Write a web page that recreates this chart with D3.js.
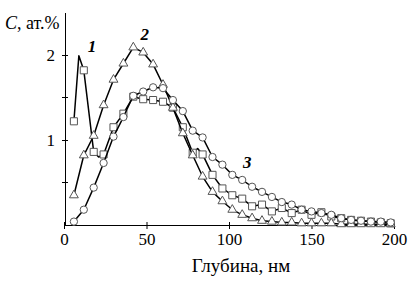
<!DOCTYPE html>
<html>
<head>
<meta charset="utf-8">
<script src="https://cdn.jsdelivr.net/npm/d3@7"></script>
<style>
  html, body { margin: 0; padding: 0; background: #fff; }
  svg { display: block; }
  svg text { font-family: "Liberation Serif", "Times New Roman", "DejaVu Serif", serif; fill: #000; }
  .axis path, .axis line { stroke: #000; stroke-width: 1; }
  .axis text { font-size: 17px; }
  .curve { fill: none; stroke: #000; stroke-width: 1.5; stroke-linejoin: round; }
  .mark { fill: #fff; stroke: #555; stroke-width: 1; }
  .curve-label { font-size: 17px; font-weight: bold; font-style: italic; }
</style>
</head>
<body>
<svg id="chart" width="412" height="292"></svg>
<script>
// depth profiles, C in at.% vs depth in nm
const depth1 = [6, 9, 12, 18, 21, 24, 30, 36, 42, 48, 54, 60, 66, 72, 78, 81, 84, 90, 96, 102, 108, 114, 120, 126, 132, 138, 144, 150, 156, 162, 168, 174, 180, 186, 192, 198];
const conc1 = [1.22, 1.99, 1.82, 0.86, 0.80, 0.83, 1.15, 1.31, 1.51, 1.48, 1.47, 1.45, 1.38, 1.15, 0.85, 0.90, 0.83, 0.59, 0.43, 0.35, 0.31, 0.22, 0.24, 0.16, 0.20, 0.14, 0.18, 0.12, 0.15, 0.10, 0.08, 0.06, 0.05, 0.04, 0.03, 0.02];

const depth2 = [6, 12, 18, 24, 30, 36, 42, 48, 54, 60, 66, 72, 78, 84, 90, 96, 102, 108, 114, 120, 126, 132, 138, 144, 150, 156, 162, 168, 174, 180, 186, 192, 198];
const conc2 = [0.35, 0.82, 1.05, 1.41, 1.71, 1.90, 2.09, 2.03, 1.89, 1.65, 1.38, 1.08, 0.82, 0.57, 0.39, 0.28, 0.18, 0.12, 0.08, 0.05, 0.04, 0.03, 0.03, 0.02, 0.02, 0.02, 0.02, 0.01, 0.01, 0.01, 0.01, 0.01, 0.01];

const depth3 = [6, 12, 18, 24, 30, 36, 42, 48, 54, 60, 66, 72, 78, 84, 90, 96, 102, 108, 114, 120, 126, 132, 138, 144, 150, 156, 162, 168, 174, 180, 186, 192, 198];
const conc3 = [0.04, 0.18, 0.44, 0.73, 1.04, 1.27, 1.52, 1.57, 1.62, 1.61, 1.47, 1.34, 1.11, 1.03, 0.80, 0.71, 0.59, 0.53, 0.45, 0.39, 0.33, 0.27, 0.24, 0.18, 0.16, 0.14, 0.12, 0.08, 0.06, 0.05, 0.04, 0.04, 0.03];

const xTicks = [0, 50, 100, 150, 200];
const yMajor = [1, 2];
const yMinor = [0.5, 1.5];

const series = [
  { id: "1", depth: depth1, conc: conc1, symbol: d3.symbolSquare, size: 50, label: { x: 17, y: 2.04 } },
  { id: "2", depth: depth2, conc: conc2, symbol: d3.symbolTriangle, size: 34, label: { x: 49, y: 2.18 } },
  { id: "3", depth: depth3, conc: conc3, symbol: d3.symbolCircle, size: 42, label: { x: 111, y: 0.67 } },
];

const svg = d3.select("#chart");
const x = d3.scaleLinear().domain([0, 200]).range([64, 394]);
const y = d3.scaleLinear().domain([0, 2.5]).range([225, 12.5]);

// axes
svg.append("g").attr("class", "axis")
  .attr("transform", `translate(0,${y(0)})`)
  .call(d3.axisBottom(x).tickValues(xTicks).tickSize(4).tickPadding(4).tickSizeOuter(0))
  .call((g) => g.attr("font-family", null).attr("font-size", null))
  .call((g) => g.selectAll(".tick line").attr("y1", -3));

const yAxis = svg.append("g").attr("class", "axis")
  .attr("transform", `translate(${x(0) + 1},0)`)
  .call(d3.axisLeft(y).tickValues(yMajor).tickFormat(d3.format("d")).tickSize(4).tickPadding(6).tickSizeOuter(0))
  .call((g) => g.attr("font-family", null).attr("font-size", null))
  .call((g) => g.selectAll(".tick line").attr("x1", 3).attr("x2", -3));
yAxis.selectAll(".minor").data(yMinor).enter().append("line")
  .attr("class", "minor")
  .attr("x1", -3).attr("x2", 3)
  .attr("y1", (d) => y(d)).attr("y2", (d) => y(d))
  .attr("stroke", "#000");

// axis titles
const ttl = svg.append("text").attr("x", 5).attr("y", 29).style("font-size", "18px");
ttl.append("tspan").style("font-style", "italic").text("C");
ttl.append("tspan").text(", ат.%");

svg.append("text")
  .attr("x", 241).attr("y", 272)
  .attr("text-anchor", "middle")
  .style("font-size", "19px")
  .text("Глубина, нм");

// curves
const line = d3.line().x((d) => x(d[0])).y((d) => y(d[1]));
for (const s of series) {
  const pts = s.depth.map((d, i) => [d, s.conc[i]]);
  svg.append("path").attr("class", "curve").attr("d", line(pts));
  svg.append("g").selectAll("path.mark")
    .data(pts.filter((p) => p[0] % 6 === 0))
    .enter().append("path")
    .attr("class", "mark")
    .attr("transform", (p) => `translate(${x(p[0])},${y(p[1])})`)
    .attr("d", d3.symbol().type(s.symbol).size(s.size));
  svg.append("text")
    .attr("class", "curve-label")
    .attr("x", x(s.label.x)).attr("y", y(s.label.y))
    .attr("text-anchor", "middle")
    .text(s.id);
}
</script>
</body>
</html>
